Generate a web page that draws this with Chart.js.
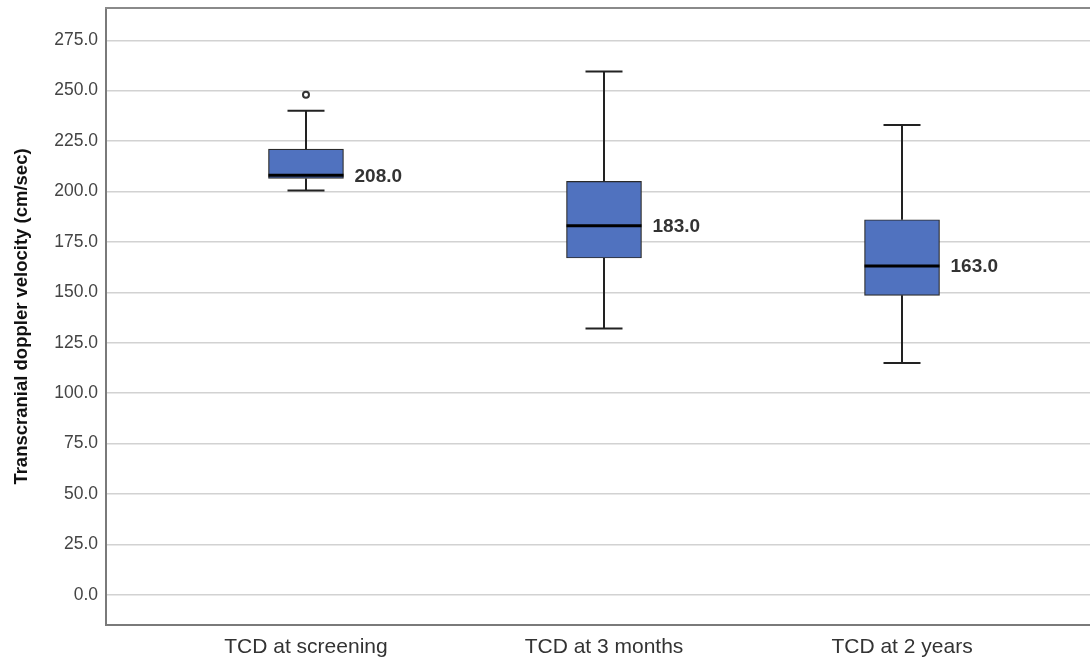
<!DOCTYPE html>
<html>
<head>
<meta charset="utf-8">
<script src="https://cdn.jsdelivr.net/npm/chart.js@4.4.0/dist/chart.umd.min.js"></script>
<style>
html,body{margin:0;padding:0;background:#fff;overflow:hidden;}
#wrap{width:1090px;height:660px;overflow:hidden;position:relative;}
canvas{display:block;}
</style>
</head>
<body>
<div id="wrap"><canvas id="c" width="1112" height="660"></canvas></div>
<script>
const categories = ['TCD at screening', 'TCD at 3 months', 'TCD at 2 years'];
const q1Values = [206.5, 167, 148.5];
const q3Values = [221, 205, 186];
const medianValues = [208, 183, 163];
const whiskerLow = [200.5, 132, 115];
const whiskerHigh = [240, 259.5, 233];
const outlierCategory = [0];
const outlierValues = [248];
const yTicks = [0, 25, 50, 75, 100, 125, 150, 175, 200, 225, 250, 275];

const FONT = "'Liberation Sans', Arial, sans-serif";

const boxPlugin = {
  id: 'boxExtras',
  afterDatasetsDraw(chart) {
    const ctx = chart.ctx;
    const xs = chart.scales.x, ys = chart.scales.y;
    const half = 37.5, cap = 18.5;
    ctx.save();
    for (let i = 0; i < categories.length; i++) {
      const cx = Math.round(xs.getPixelForValue(i));
      const yQ1 = ys.getPixelForValue(q1Values[i]);
      const yQ3 = ys.getPixelForValue(q3Values[i]);
      const yLo = ys.getPixelForValue(whiskerLow[i]);
      const yHi = ys.getPixelForValue(whiskerHigh[i]);
      const yMed = ys.getPixelForValue(medianValues[i]);
      ctx.strokeStyle = '#222';
      ctx.lineWidth = 2;
      ctx.beginPath();
      ctx.moveTo(cx, yQ3); ctx.lineTo(cx, yHi);
      ctx.moveTo(cx - cap, yHi); ctx.lineTo(cx + cap, yHi);
      ctx.moveTo(cx, yQ1); ctx.lineTo(cx, yLo);
      ctx.moveTo(cx - cap, yLo); ctx.lineTo(cx + cap, yLo);
      ctx.stroke();
      ctx.strokeStyle = '#000';
      ctx.lineWidth = 3;
      ctx.beginPath();
      ctx.moveTo(cx - half, yMed); ctx.lineTo(cx + half, yMed);
      ctx.stroke();
      ctx.fillStyle = '#333';
      ctx.font = 'bold 19px ' + FONT;
      ctx.textAlign = 'left';
      ctx.textBaseline = 'middle';
      ctx.fillText(medianValues[i].toFixed(1), cx + half + 11, yMed + 1);
    }
    const a = chart.chartArea;
    ctx.strokeStyle = '#8a8a8a';
    ctx.lineWidth = 2;
    ctx.beginPath();
    ctx.moveTo(a.left - 1, a.top); ctx.lineTo(a.right + 10, a.top);
    ctx.stroke();
    ctx.restore();
  }
};

new Chart(document.getElementById('c'), {
  type: 'bar',
  data: {
    datasets: [
      {
        type: 'bar',
        data: categories.map((c, i) => ({ x: i, y: [q1Values[i], q3Values[i]] })),
        backgroundColor: 'rgb(80,114,191)',
        borderColor: '#2a2a2a',
        borderWidth: 1.2,
        borderSkipped: false,
        barThickness: 75,
        order: 2
      },
      {
        type: 'scatter',
        data: outlierCategory.map((c, i) => ({ x: c, y: outlierValues[i] })),
        pointStyle: 'circle',
        pointRadius: 3,
        pointBackgroundColor: '#fff',
        pointBorderColor: '#333',
        pointBorderWidth: 2,
        showLine: false,
        order: 1
      }
    ]
  },
  options: {
    responsive: false,
    animation: false,
    layout: { padding: { top: 8, right: 10, left: 0, bottom: 0 } },
    plugins: { legend: { display: false }, tooltip: { enabled: false } },
    scales: {
      x: {
        type: 'linear',
        min: -0.671,
        max: 2.671,
        offset: false,
        afterBuildTicks: s => { s.ticks = categories.map((c, i) => ({ value: i })); },
        afterFit: s => { s.height = 35; s.paddingLeft = 0; s.paddingRight = 0; },
        ticks: {
          callback: v => categories[v],
          font: { family: FONT, size: 21 },
          color: '#333',
          padding: 10,
          maxRotation: 0,
          autoSkip: false
        },
        grid: { display: false, drawTicks: false },
        border: { display: true, color: '#7a7a7a', width: 2 }
      },
      y: {
        type: 'linear',
        min: -15,
        max: 291,
        afterBuildTicks: s => { s.ticks = yTicks.map(v => ({ value: v })); },
        afterFit: s => { s.width = 106; s.paddingTop = 0; s.paddingBottom = 0; },
        ticks: {
          callback: v => Number(v).toFixed(1),
          font: { family: FONT, size: 17.5 },
          color: '#444',
          padding: 8
        },
        grid: { color: '#d2d2d2', lineWidth: 1.5, drawTicks: false },
        border: { display: true, color: '#7a7a7a', width: 2 },
        title: {
          display: true,
          text: 'Transcranial doppler velocity (cm/sec)',
          font: { family: FONT, size: 18.5, weight: 'bold' },
          color: '#111',
          padding: { top: 11, bottom: 0 }
        }
      }
    }
  },
  plugins: [boxPlugin]
});
</script>
</body>
</html>
